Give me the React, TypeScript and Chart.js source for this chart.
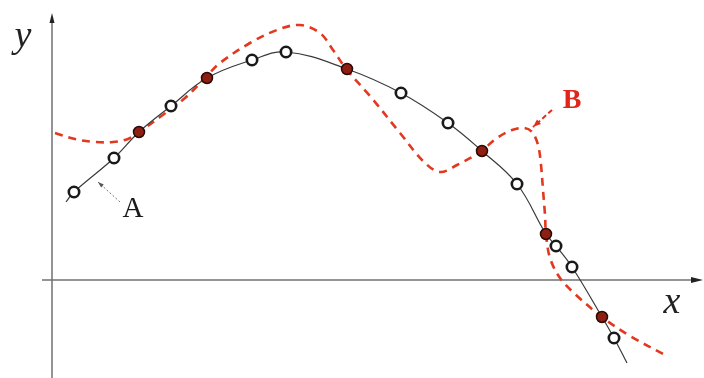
import React, { useEffect, useRef } from "react";
import { Chart, registerables } from "chart.js";

Chart.register(...registerables);

// Coordinates: x measured from the y-axis, y measured up from the x-axis.
const openMarkers: [number, number][] = [
  [22, 88], [62, 122], [119, 174], [200, 220], [234, 228], [349, 187],
  [396, 157], [465, 96], [504, 34], [520, 13], [562, -58],
];
const filledMarkers: [number, number][] = [
  [87, 148], [155, 202], [295, 211], [430, 129], [494, 46], [550, -37],
];
const curveAEnds: [number, number][] = [[14, 78], [575, -83]];
const curveB: [number, number][] = [
  [3, 147], [23, 141], [43, 138], [61, 138], [76, 141], [87, 148], [108, 163],
  [133, 182], [153, 202], [168, 217], [198, 237], [225, 250], [248, 255],
  [268, 247], [281, 230], [295, 210], [318, 184], [348, 147], [372, 118],
  [388, 108], [405, 115], [428, 128], [445, 142],
  [460, 150], [472, 152], [480, 148], [486, 135], [489, 115], [491, 90],
  [493, 65], [494, 46], [498, 22], [508, 2], [523, -14], [550, -37],
  [578, -56], [615, -76],
];
const xRange: [number, number] = [-52, 652];
const yRange: [number, number] = [-98, 280];
const xAxisSpan: [number, number] = [-10, 651];
const yAxisSpan: [number, number] = [-98, 267];
const leaderA: [number, number][] = [[68, 78], [46, 98]];
const leaderB: [number, number][] = [[500, 170], [481, 153]];
const labelA: [number, number] = [81, 63];
const labelB: [number, number] = [520, 172];
const labelX: [number, number] = [620, -33];
const labelY: [number, number] = [-29, 233];

const toXY = (a: [number, number][]) => a.map(([x, y]) => ({ x, y }));

const curveA = [...openMarkers, ...filledMarkers, ...curveAEnds].sort((a, b) => a[0] - b[0]);

function arrowHead(ctx: CanvasRenderingContext2D, fx: number, fy: number, tx: number, ty: number, len: number, w: number) {
  const ang = Math.atan2(ty - fy, tx - fx);
  ctx.beginPath();
  ctx.moveTo(tx, ty);
  ctx.lineTo(tx - len * Math.cos(ang) + w * Math.sin(ang), ty - len * Math.sin(ang) - w * Math.cos(ang));
  ctx.lineTo(tx - len * Math.cos(ang) - w * Math.sin(ang), ty - len * Math.sin(ang) + w * Math.cos(ang));
  ctx.closePath();
  ctx.fill();
}

const diagramPlugin = {
  id: "diagram",
  beforeDatasetsDraw(chart: any) {
    const { ctx, scales } = chart;
    const px = (v: number) => scales.x.getPixelForValue(v);
    const py = (v: number) => scales.y.getPixelForValue(v);
    ctx.save();
    ctx.strokeStyle = "#707070";
    ctx.fillStyle = "#222";
    ctx.lineWidth = 1.5;
    ctx.beginPath();
    ctx.moveTo(px(0), py(yAxisSpan[0]));
    ctx.lineTo(px(0), py(yAxisSpan[1]) + 6);
    ctx.stroke();
    arrowHead(ctx, px(0), py(0), px(0), py(yAxisSpan[1]), 10, 2.5);
    ctx.beginPath();
    ctx.moveTo(px(xAxisSpan[0]), py(0));
    ctx.lineTo(px(xAxisSpan[1]) - 6, py(0));
    ctx.stroke();
    arrowHead(ctx, px(0), py(0), px(xAxisSpan[1]), py(0), 12, 3);
    ctx.restore();
  },
  afterDatasetsDraw(chart: any) {
    const { ctx, scales } = chart;
    const px = (v: number) => scales.x.getPixelForValue(v);
    const py = (v: number) => scales.y.getPixelForValue(v);
    ctx.save();
    // leader A
    ctx.strokeStyle = "#777";
    ctx.fillStyle = "#555";
    ctx.lineWidth = 1;
    ctx.setLineDash([2, 2]);
    ctx.beginPath();
    ctx.moveTo(px(leaderA[0][0]), py(leaderA[0][1]));
    ctx.lineTo(px(leaderA[1][0]), py(leaderA[1][1]));
    ctx.stroke();
    ctx.setLineDash([]);
    arrowHead(ctx, px(leaderA[0][0]), py(leaderA[0][1]), px(leaderA[1][0]), py(leaderA[1][1]), 6, 2);
    // leader B
    ctx.strokeStyle = "#e0301e";
    ctx.fillStyle = "#e0301e";
    ctx.lineWidth = 2;
    ctx.setLineDash([5, 3]);
    ctx.beginPath();
    ctx.moveTo(px(leaderB[0][0]), py(leaderB[0][1]));
    ctx.lineTo(px(leaderB[1][0]), py(leaderB[1][1]));
    ctx.stroke();
    ctx.setLineDash([]);
    arrowHead(ctx, px(leaderB[0][0]), py(leaderB[0][1]), px(leaderB[1][0]), py(leaderB[1][1]), 8, 3);
    // labels
    ctx.textAlign = "center";
    ctx.textBaseline = "alphabetic";
    ctx.fillStyle = "#1a1a1a";
    ctx.font = '29px "Liberation Serif"';
    ctx.fillText("A", px(labelA[0]), py(labelA[1]));
    ctx.fillStyle = "#e0251a";
    ctx.font = 'bold 28px "Liberation Serif"';
    ctx.fillText("B", px(labelB[0]), py(labelB[1]));
    ctx.fillStyle = "#222";
    ctx.font = 'italic 38px "Liberation Serif"';
    ctx.fillText("x", px(labelX[0]), py(labelX[1]));
    ctx.fillText("y", px(labelY[0]), py(labelY[1]));
    ctx.restore();
  },
};

export default function App() {
  const ref = useRef<HTMLCanvasElement | null>(null);
  useEffect(() => {
    if (!ref.current) return;
    const chart = new Chart(ref.current, {
      type: "scatter",
      data: {
        datasets: [
          {
            label: "filled",
            data: toXY(filledMarkers),
            showLine: false,
            pointRadius: 5.5,
            pointBackgroundColor: "#8e1e12",
            pointBorderColor: "#2a0a06",
            pointBorderWidth: 1.5,
          },
          {
            label: "open",
            data: toXY(openMarkers),
            showLine: false,
            pointRadius: 5.2,
            pointBackgroundColor: "#ffffff",
            pointBorderColor: "#1a1a1a",
            pointBorderWidth: 2.6,
          },
          {
            label: "A",
            data: toXY(curveA),
            showLine: true,
            pointRadius: 0,
            borderColor: "#3a3a3a",
            borderWidth: 1.2,
            tension: 0.4,
          },
          {
            label: "B",
            data: toXY(curveB),
            showLine: true,
            pointRadius: 0,
            borderColor: "#e2381f",
            borderWidth: 2.6,
            borderDash: [8, 6],
            tension: 0.35,
          },
        ],
      },
      options: {
        animation: false,
        responsive: false,
        devicePixelRatio: 1,
        events: [],
        layout: { padding: 0, autoPadding: false },
        plugins: { legend: { display: false }, tooltip: { enabled: false } },
        scales: {
          x: { type: "linear", min: xRange[0], max: xRange[1], display: false },
          y: { type: "linear", min: yRange[0], max: yRange[1], display: false },
        },
      },
      plugins: [diagramPlugin],
    });
    return () => chart.destroy();
  }, []);
  return (
    <div style={{ position: "absolute", left: 0, top: 0, width: 704, height: 378, background: "#fff" }}>
      <canvas ref={ref} width={704} height={378} />
    </div>
  );
}
